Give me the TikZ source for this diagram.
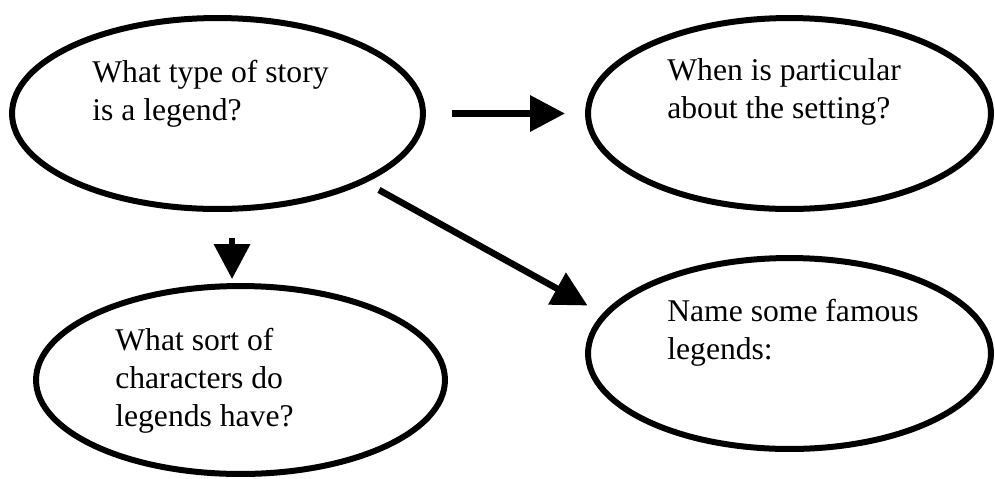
\documentclass[tikz,border=0pt]{standalone}
\usepackage{fontspec}
\setmainfont{Liberation Serif}
\usetikzlibrary{shapes.geometric}
\usetikzlibrary{arrows.meta}
\tikzset{bubble/.style={ellipse,draw,line width=0.12cm,minimum height=3.82cm,inner sep=0pt},
 qtext/.style={align=left,inner sep=0pt,anchor=base west,font=\fontsize{18}{21.6}\selectfont},
 arr/.style={line width=0.13cm,-{Triangle[length=0.7cm,width=0.7cm]}},
 }

\begin{document}
\begin{tikzpicture}[x=0.02cm,y=-0.02cm]
        \useasboundingbox (0,0) rectangle (995,478);
        \node [bubble, minimum width=8.22cm] (q1) at (217.5,113.5) {};
        \node [bubble, minimum width=8.06cm] (q2) at (789.5,113.5) {};
        \node [bubble, minimum width=8.18cm, minimum height=3.76cm] (q3) at (240.5,380) {};
        \node [bubble, minimum width=8.06cm] (q4) at (789.5,353.5) {};
        \node [qtext] (t1) at (92,120) {What type of story\\is a legend?};
        \node [qtext] (t2) at (667,118) {When is particular\\about the setting?};
        \node [qtext] (t3) at (115,426) {What sort of\\characters do\\legends have?};
        \node [qtext] (t4) at (667,359) {Name some famous\\legends:};
        \draw [arr, shorten <=0.53cm, shorten >=0.4cm] (q1.east) -- (q2.west);
        \draw [arr, shorten <=0.3cm, shorten >=0.34cm] (q1.-25) -- (q4.168);
        \draw [arr, shorten <=0.52cm, shorten >=0.08cm] (q3.95 |- q1.south) -- (q3.95);
    \end{tikzpicture}
\end{document}
